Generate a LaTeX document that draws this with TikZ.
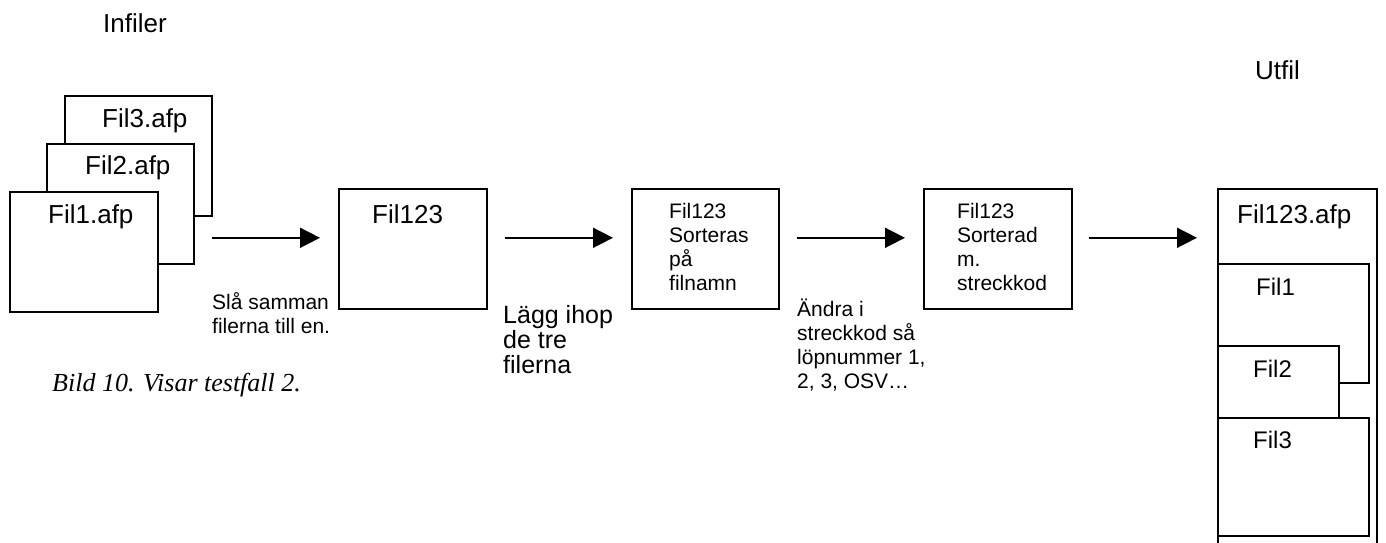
\documentclass[tikz,border=0pt]{standalone}
\usepackage{fontspec}
\setmainfont{Liberation Sans}
\newfontfamily\captionfont{Liberation Serif}
\usetikzlibrary{arrows.meta}

\tikzset{
  filebox/.style={draw, fill=white, line width=1.6pt, inner sep=0pt, anchor=north west},
  bigtext/.style={font=\fontsize{26}{30}\selectfont, inner sep=0pt, anchor=base west},
  midtext/.style={font=\fontsize{24}{26}\selectfont, align=left, inner sep=0pt, anchor=base west},
  smalltext/.style={font=\fontsize{21}{24}\selectfont, align=left, inner sep=0pt, anchor=base west},
  flow/.style={-{Triangle[length=20pt,width=20pt]}, line width=1.6pt}
}

\begin{document}
\begin{tikzpicture}[x=1pt,y=-1pt]
  \clip (0,0) rectangle (1386,542);
  \fill[white] (0,0) rectangle (1386,542);

  % infiler (multi-line text sits on its last baseline)
  \node[bigtext] (infiler) at (103,32) {Infiler};
  \node[filebox, minimum width=147, minimum height=120] (fil3) at (64,95) {};
  \node[bigtext] (fil3txt) at (102,127) {Fil3.afp};
  \node[filebox, minimum width=147, minimum height=120] (fil2) at (46,143) {};
  \node[bigtext] (fil2txt) at (85,174) {Fil2.afp};
  \node[filebox, minimum width=148, minimum height=120] (fil1) at (9,191) {};
  \node[bigtext] (fil1txt) at (48,223) {Fil1.afp};
  \node[smalltext] (merge) at (212,333) {Slå samman\\filerna till en.};
  \node[bigtext, font=\captionfont\itshape\fontsize{26}{30}\selectfont] (caption) at (52,391) {Bild 10. Visar testfall 2.};

  % steg
  \node[filebox, minimum width=148, minimum height=120] (fil123) at (338,188) {};
  \node[bigtext] (fil123txt) at (372,223) {Fil123};
  \node[midtext, font=\fontsize{25}{25}\selectfont] (join) at (503,373) {Lägg ihop\\de tre\\filerna};
  \node[filebox, minimum width=147, minimum height=120] (sorted) at (631,188) {};
  \node[smalltext] (sortedtxt) at (669,290) {Fil123\\Sorteras\\på\\filnamn};
  \node[smalltext] (change) at (797,388) {Ändra i\\streckkod så\\löpnummer 1,\\2, 3, OSV…};
  \node[filebox, minimum width=148, minimum height=120] (coded) at (923,188) {};
  \node[smalltext] (codedtxt) at (957,290) {Fil123\\Sorterad\\m.\\streckkod};

  % utfil
  \node[bigtext] (utfil) at (1255,79) {Utfil};
  \node[filebox, minimum width=159, minimum height=400] (utbox) at (1217,188) {};
  \node[bigtext] (utboxtxt) at (1237,223) {Fil123.afp};
  \node[filebox, minimum width=151, minimum height=119] (ut1) at (1217,263) {};
  \node[midtext] (ut1txt) at (1256,295) {Fil1};
  \node[filebox, minimum width=121, minimum height=72] (ut2) at (1217,345) {};
  \node[midtext] (ut2txt) at (1253,377) {Fil2};
  \node[filebox, minimum width=151, minimum height=118] (ut3) at (1217,417) {};
  \node[midtext] (ut3txt) at (1253,448) {Fil3};

  % pilar
  \draw[flow] ([xshift=17pt,yshift=11pt]fil2.east |- fil123.west) -- ([xshift=-18pt,yshift=11pt]fil123.west);
  \draw[flow] ([xshift=17pt,yshift=11pt]fil123.east) -- ([xshift=-18pt,yshift=11pt]sorted.west);
  \draw[flow] ([xshift=17pt,yshift=11pt]sorted.east) -- ([xshift=-18pt,yshift=11pt]coded.west);
  \draw[flow] ([xshift=16pt,yshift=11pt]coded.east) -- ([xshift=-20pt,yshift=11pt]utbox.west |- coded.east);
\end{tikzpicture}
\end{document}
